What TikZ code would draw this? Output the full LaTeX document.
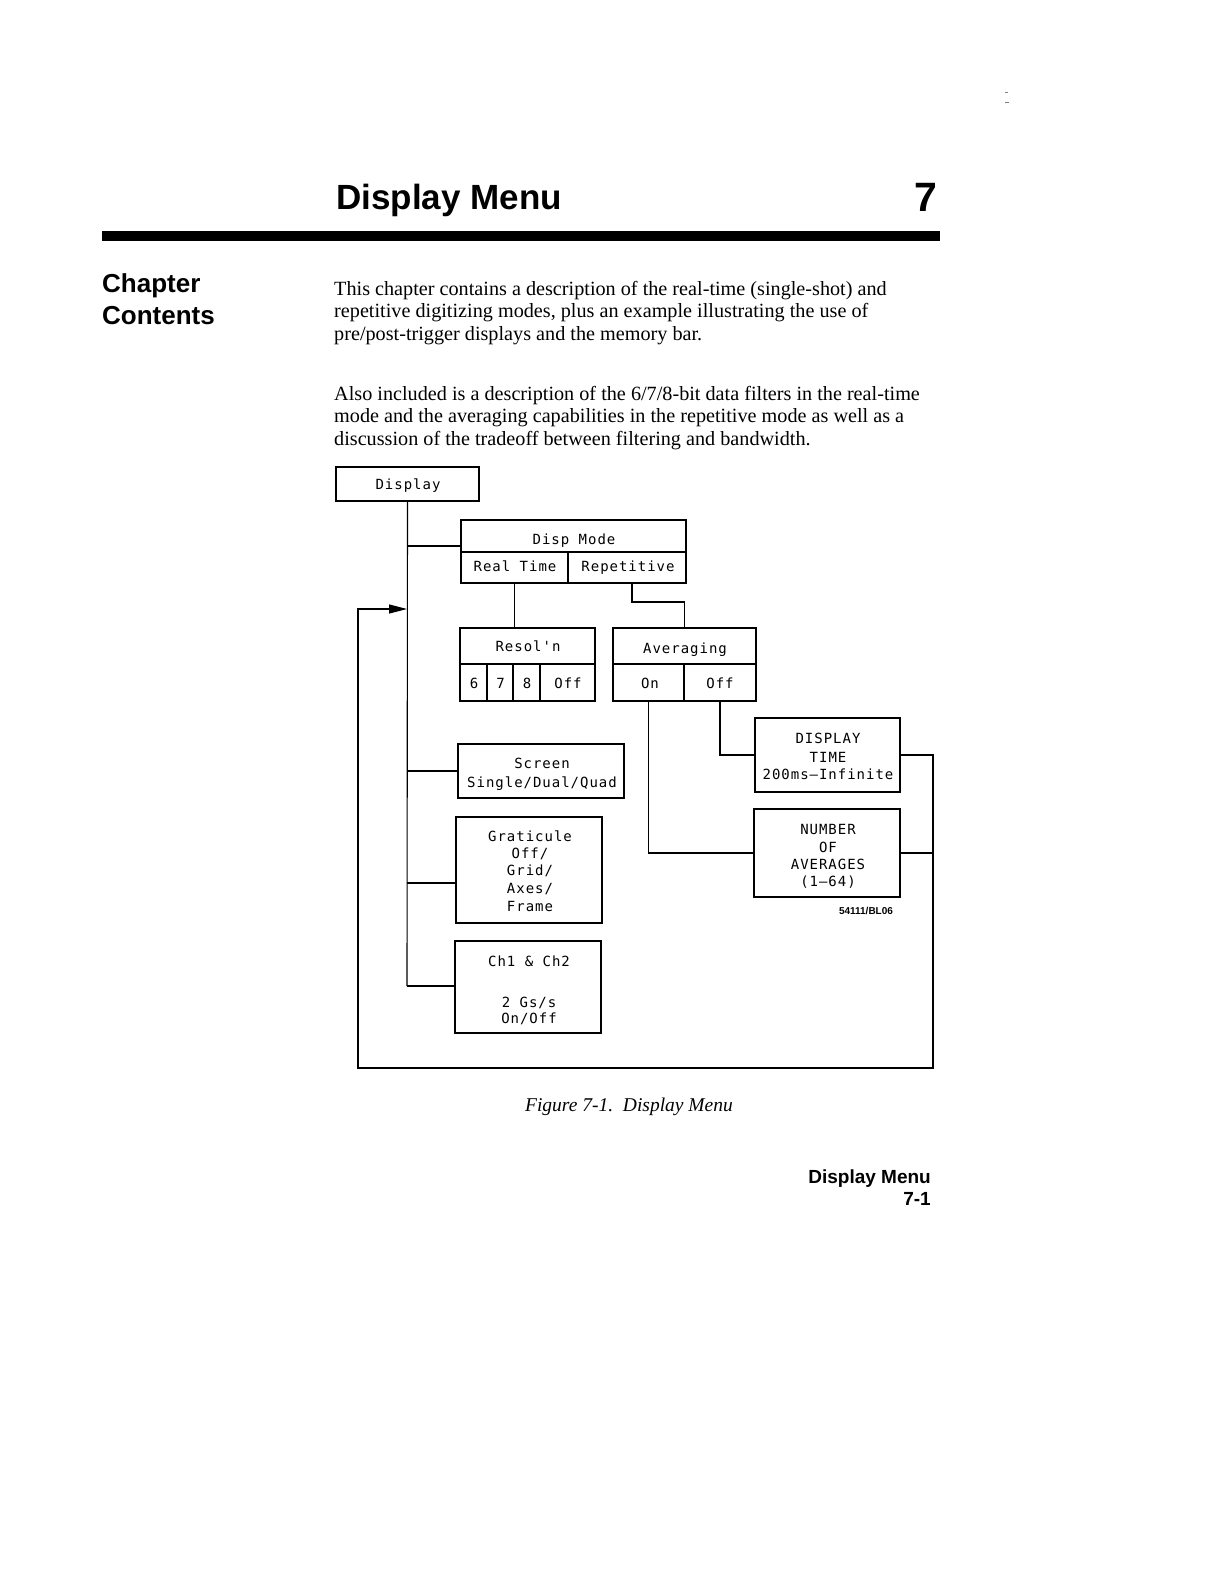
\documentclass[tikz,border=0pt]{standalone}
\usepackage{fontspec}
\setmainfont{Liberation Serif}
\newfontfamily\hfont{Liberation Sans}
\newfontfamily\plotfont[LetterSpace=7]{DejaVu Sans Mono}
\usetikzlibrary{arrows.meta}
\newcommand\menubox[5]{\node[mbox, minimum width={(#4)-(#2)}, minimum height={(#5)-(#3)}] (#1) at ({((#2)+(#4))/2},{((#3)+(#5))/2}) {};}
\tikzset{
  mbox/.style={draw, line width=1.2pt, inner sep=0pt, outer sep=0pt},
  ptext/.style={anchor=base, inner sep=0pt, font=\plotfont\fontsize{14}{16}\selectfont},
  body/.style={anchor=base west, inner sep=0pt, font=\fontsize{20.2}{22}\selectfont},
  conn/.style={line width=1.1pt},
}
\begin{document}
\begin{tikzpicture}[x=1pt,y=-1pt]
\fill[white] (0,0) rectangle (1224,1584);
\useasboundingbox (0,0) rectangle (1224,1584);

% header
\node[anchor=base west, inner sep=0pt, font=\hfont\bfseries\fontsize{35}{40}\selectfont] (title) at (336,209) {Display Menu};
\node[anchor=base east, inner sep=0pt, font=\hfont\bfseries\fontsize{41}{44}\selectfont] (chapnum) at (937,211) {7};
\fill (102,231) rectangle (940,241);
\node[anchor=base west, inner sep=0pt, font=\hfont\bfseries\fontsize{26}{30}\selectfont] (cc1) at (102,292) {Chapter};
\node[anchor=base west, inner sep=0pt, font=\hfont\bfseries\fontsize{26}{30}\selectfont] (cc2) at (102,324) {Contents};
\draw[gray, line width=1pt] (1005,93) -- (1008,93) (1005,103) -- (1009,103);

% body text
\node[body] (b1) at (334,295) {This chapter contains a description of the real-time (single-shot) and};
\node[body] (b2) at (334,317) {repetitive digitizing modes, plus an example illustrating the use of};
\node[body] (b3) at (334,340) {pre/post-trigger displays and the memory bar.};
\node[body] (b4) at (334,400) {Also included is a description of the 6/7/8-bit data filters in the real-time};
\node[body] (b5) at (334,422) {mode and the averaging capabilities in the repetitive mode as well as a};
\node[body] (b6) at (334,445) {discussion of the tradeoff between filtering and bandwidth.};

% boxes
\menubox{display}{336}{467}{479}{501}
\menubox{dispmode}{461}{520}{686}{552}
\menubox{realtime}{461}{552}{568}{583}
\menubox{repet}{568}{552}{686}{583}
\menubox{resol}{460}{628}{595}{664}
\menubox{rsix}{460}{664}{487}{701}
\menubox{rseven}{487}{664}{513}{701}
\menubox{reight}{513}{664}{540}{701}
\menubox{roff}{540}{664}{595}{701}
\menubox{avg}{613}{628}{756}{664}
\menubox{aon}{613}{664}{684}{701}
\menubox{aoff}{684}{664}{756}{701}
\menubox{disptime}{755}{718}{900}{792}
\menubox{number}{754}{809}{900}{897}
\menubox{screen}{458}{744}{624}{798}
\menubox{grat}{456}{817}{602}{923}
\menubox{chan}{455}{941}{601}{1033}

% box texts
\node[ptext] (tdisplay) at (408,489) {Display};
\node[ptext] (tdispmode) at (574,544) {Disp Mode};
\node[ptext] (treal) at (515,571) {Real Time};
\node[ptext] (trep) at (628,571) {Repetitive};
\node[ptext] (tresol) at (528,651) {Resol'n};
\node[ptext] (t6) at (474,688) {6};
\node[ptext] (t7) at (500.5,688) {7};
\node[ptext] (t8) at (527,688) {8};
\node[ptext] (troff) at (568,688) {Off};
\node[ptext] (tavg) at (685,653) {Averaging};
\node[ptext] (taon) at (650,688) {On};
\node[ptext] (taoff) at (720,688) {Off};
\node[ptext] (td1) at (828,743) {DISPLAY};
\node[ptext] (td2) at (828,762) {TIME};
\node[ptext] (td3) at (828,779) {200ms–Infinite};
\node[ptext] (tn1) at (828,834) {NUMBER};
\node[ptext] (tn2) at (828,852) {OF};
\node[ptext] (tn3) at (828,869) {AVERAGES};
\node[ptext] (tn4) at (828,886) {(1–64)};
\node[ptext] (ts1) at (542,768) {Screen};
\node[ptext] (ts2) at (542,787) {Single/Dual/Quad};
\node[ptext] (tg1) at (530,841) {Graticule};
\node[ptext] (tg2) at (530,858) {Off/};
\node[ptext] (tg3) at (530,875) {Grid/};
\node[ptext] (tg4) at (530,893) {Axes/};
\node[ptext] (tg5) at (530,911) {Frame};
\node[ptext] (tc1) at (529,966) {Ch1 \& Ch2};
\node[ptext] (tc2) at (529,1007) {2 Gs/s};
\node[ptext] (tc3) at (529,1023) {On/Off};
\node[anchor=center, inner sep=0pt, font=\hfont\bfseries\fontsize{10}{10}\selectfont] (code) at (866,911) {54111/BL06};

% connectors
\coordinate (t1) at (407,546);
\coordinate (t2) at (407,771);
\coordinate (t3) at (407,883);
\coordinate (t4) at (407,986);
\coordinate (arr) at (407,609);
\coordinate (lr) at (933,1068);
\coordinate (ll) at (358,1068);
\draw[conn] (display.south) -- (t4);
\draw[conn] (t1) -- (t1 -| dispmode.west);
\draw[conn] (t2) -- (t2 -| screen.west);
\draw[conn] (t3) -- (t3 -| grat.west);
\draw[conn] (t4) -- (t4 -| chan.west);
\draw[conn] (realtime.south) -- (realtime.south |- resol.north);
\draw[conn] ([xshift=5pt]repet.south) -- ++(0,19) -| (avg.north);
\draw[conn] (aon.south) |- (number.west);
\draw[conn] (aoff.south) |- (disptime.west);
\draw[conn, -{Triangle[length=18pt,width=9pt]}] (disptime.east) -| (lr) -- (ll) |- (arr);
\draw[conn] (number.east) -- (number.east -| lr);

% caption and footer
\node[anchor=base, inner sep=0pt, font=\itshape\fontsize{19.5}{22}\selectfont] (caption) at (629,1111) {Figure 7-1.\ \ Display Menu};
\node[anchor=base east, inner sep=0pt, font=\hfont\bfseries\fontsize{19}{22}\selectfont] (foot1) at (931,1183) {Display Menu};
\node[anchor=base east, inner sep=0pt, font=\hfont\bfseries\fontsize{19}{22}\selectfont] (foot2) at (931,1205) {7-1};
\end{tikzpicture}
\end{document}
